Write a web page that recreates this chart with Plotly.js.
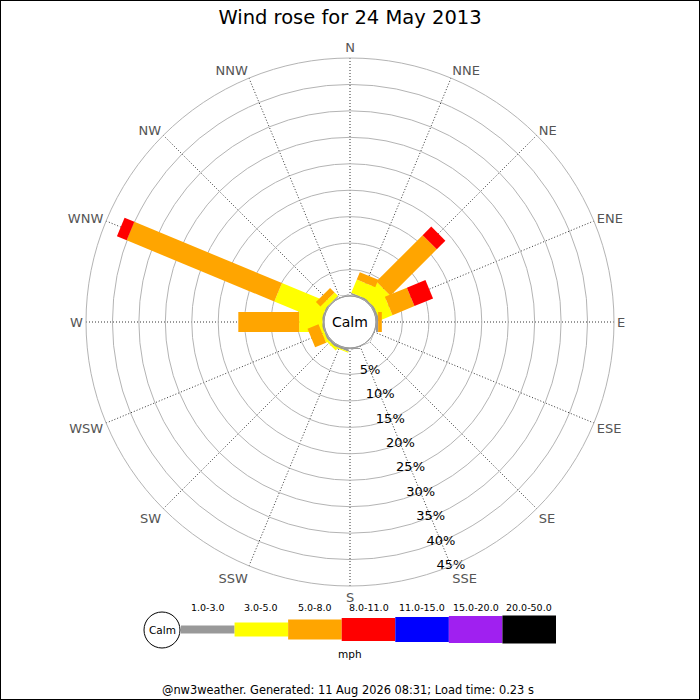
<!DOCTYPE html>
<html><head><meta charset="utf-8">
<script src="https://cdn.plot.ly/plotly-3.0.1.min.js"></script>
<style>html,body{margin:0;padding:0;background:#fff}#chart{width:700px;height:700px}</style>
</head><body><div id="chart"></div>
<script>
// ---- data ----
const directions = ['N','NNE','NE','ENE','E','ESE','SE','SSE','S','SSW','SW','WSW','W','WNW','NW','NNW'];
const speedClasses = ['1.0-3.0','3.0-5.0','5.0-8.0','8.0-11.0','11.0-15.0','15.0-20.0','20.0-50.0'];
const classColors = ['#999999','#ffff00','#ffa500','#ff0000','#0000ff','#a020f0','#000000'];
// percentage frequency per direction for each speed class (mph)
const freq_1_3   = [0.1, 0.3, 0.3, 0.4, 0.4, 0.1, 0, 0.1, 0.2, 0.4, 0.4, 0.3, 0.3, 0.3, 0.2, 0.1];
const freq_3_5   = [0, 2.7, 3.7, 2.6, 0, 0, 0, 0, 0, 0.2, 0.4, 0.45, 4.4, 9.5, 0.9, 0];
const freq_5_8   = [0, 1.5, 12.4, 4.5, 0.7, 0, 0, 0, 0, 0, 0, 2.25, 11.5, 30.2, 1.2, 0];
const freq_8_11  = [0, 0, 2.3, 3.8, 0, 0, 0, 0, 0, 0, 0, 0, 0, 2.0, 0, 0];
const freq_11_15 = [0, 0, 0, 0, 0, 0, 0, 0, 0, 0, 0, 0, 0, 0, 0, 0];
const freq_15_20 = [0, 0, 0, 0, 0, 0, 0, 0, 0, 0, 0, 0, 0, 0, 0, 0];
const freq_20_50 = [0, 0, 0, 0, 0, 0, 0, 0, 0, 0, 0, 0, 0, 0, 0, 0];
const radialTicks = [5, 10, 15, 20, 25, 30, 35, 40, 45];
const radialTickLabels = ['5%','10%','15%','20%','25%','30%','35%','40%','45%'];
const titleText = 'Wind rose for 24 May 2013';
const calmLabel = 'Calm';
const unitLabel = 'mph';
const footerText = '@nw3weather. Generated: 11 Aug 2026 08:31; Load time: 0.23 s';

// ---- geometry / style ----
const W = 700, H = 700;
const cx = 350, cy = 322, R = 264, holePx = 26;
const FONT = 'DejaVu Sans, sans-serif';
const px = x => x / W;
const py = y => 1 - y / H;

const series = [freq_1_3, freq_3_5, freq_5_8, freq_8_11, freq_11_15, freq_15_20, freq_20_50];
const traces = [];
const cum = directions.map(() => 0);
series.forEach((vals, k) => {
  const r = [], th = [];
  vals.forEach((v, i) => {
    if (v > 0) {
      r.push(cum[i], cum[i] + v, null);
      th.push(directions[i], directions[i], directions[i]);
    }
    cum[i] += v;
  });
  traces.push({
    type: 'scatterpolar', mode: 'lines', r: r, theta: th,
    line: {color: classColors[k], width: 20},
    connectgaps: false, hoverinfo: 'skip', showlegend: false
  });
});
traces.push({
  type: 'scatterpolar', mode: 'text',
  r: radialTicks, theta: radialTicks.map(() => 'SSE'),
  text: radialTickLabels, textposition: 'middle center',
  textfont: {family: FONT, size: 13, color: '#000'},
  hoverinfo: 'skip', showlegend: false
});

const shapes = [];
const annotations = [];
// calm circle
shapes.push({type: 'circle', xref: 'paper', yref: 'paper',
  x0: px(cx - holePx), x1: px(cx + holePx), y0: py(cy + holePx), y1: py(cy - holePx),
  line: {color: '#999', width: 1}, fillcolor: 'rgba(0,0,0,0)', layer: 'above'});
annotations.push({xref: 'paper', yref: 'paper', x: px(cx), y: py(cy), text: calmLabel,
  showarrow: false, xanchor: 'center', yanchor: 'middle', font: {family: FONT, size: 14, color: '#000'}});

// colour key
const keyX0 = 181, keyX1 = 556, keyY = 629.5;
const keyHeights = [8, 14, 20, 23, 25, 27, 28];
const segW = (keyX1 - keyX0) / speedClasses.length;
shapes.push({type: 'circle', xref: 'paper', yref: 'paper',
  x0: px(162 - 18), x1: px(162 + 18), y0: py(630 + 18), y1: py(630 - 18),
  line: {color: '#000', width: 1}, fillcolor: '#fff'});
annotations.push({xref: 'paper', yref: 'paper', x: px(162), y: py(630), text: calmLabel,
  showarrow: false, xanchor: 'center', yanchor: 'middle', font: {family: FONT, size: 10.5, color: '#000'}});
speedClasses.forEach((lab, k) => {
  const x0 = keyX0 + k * segW, h = keyHeights[k];
  shapes.push({type: 'rect', xref: 'paper', yref: 'paper',
    x0: px(x0), x1: px(x0 + segW), y0: py(keyY + h / 2), y1: py(keyY - h / 2),
    line: {width: 0}, fillcolor: classColors[k]});
  annotations.push({xref: 'paper', yref: 'paper', x: px(x0 + segW / 2), y: py(607), text: lab,
    showarrow: false, xanchor: 'center', yanchor: 'middle', font: {family: FONT, size: 9.5, color: '#000'}});
});
annotations.push({xref: 'paper', yref: 'paper', x: px(350), y: py(654), text: unitLabel,
  showarrow: false, xanchor: 'center', yanchor: 'middle', font: {family: FONT, size: 10.5, color: '#000'}});
annotations.push({xref: 'paper', yref: 'paper', x: px(348), y: py(690), text: footerText,
  showarrow: false, xanchor: 'center', yanchor: 'middle', font: {family: FONT, size: 11.4, color: '#000'}});
// frame
shapes.push({type: 'rect', xref: 'paper', yref: 'paper', x0: 0, x1: 1, y0: 0, y1: 1,
  line: {color: '#000', width: 2}, fillcolor: 'rgba(0,0,0,0)'});

const layout = {
  width: W, height: H,
  margin: {l: 0, r: 0, t: 0, b: 0},
  paper_bgcolor: '#fff',
  showlegend: false,
  title: {text: titleText, x: 0.5, xanchor: 'center', xref: 'paper', y: py(17), yref: 'container', yanchor: 'middle',
    font: {family: FONT, size: 19.5, color: '#000'}},
  polar: {
    domain: {x: [px(cx - R), px(cx + R)], y: [py(cy + R), py(cy - R)]},
    hole: holePx / R,
    bgcolor: '#fff',
    radialaxis: {range: [0, 45], tickvals: radialTicks, showticklabels: false, ticks: '',
      showline: false, gridcolor: '#b4b4b4', gridwidth: 1, angle: -67.5},
    angularaxis: {type: 'category', categoryarray: directions, rotation: 90, direction: 'clockwise',
      ticks: '', showline: true, linecolor: '#b4b4b4', linewidth: 1,
      gridcolor: '#333', gridwidth: 1, griddash: '1px,2px',
      tickfont: {family: FONT, size: 13, color: '#555'}}
  },
  shapes: shapes,
  annotations: annotations
};

Plotly.newPlot('chart', traces, layout, {staticPlot: true, displayModeBar: false});
</script>
</body></html>
